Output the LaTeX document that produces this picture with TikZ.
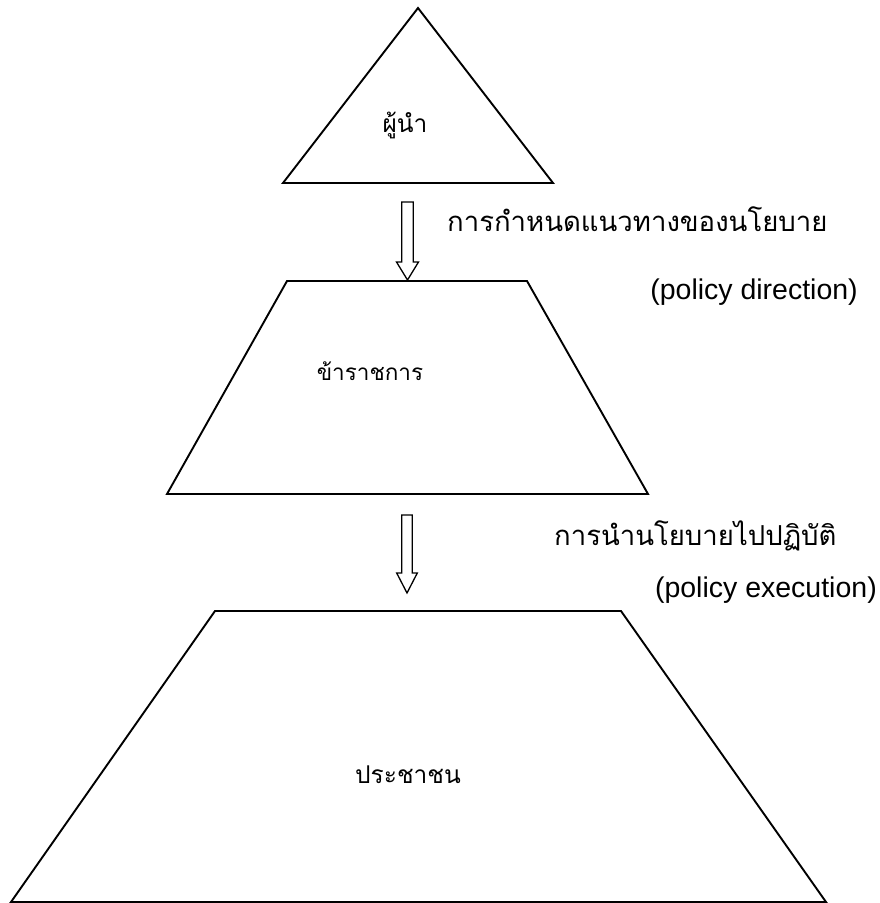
\documentclass[tikz,border=0pt]{standalone}
\usepackage{fontspec}
\setmainfont{Liberation Sans}
\newfontfamily\thaifont[Script=Thai]{Loma}
\begin{document}
\begin{tikzpicture}[x=1pt,y=-1pt,
  tier/.style={draw=black,line width=1.9pt,line join=miter},
  hollowarrow/.style={draw=black,line width=1.3pt,fill=white,line join=miter},
  thailabel/.style={inner sep=0pt,font=\thaifont\fontsize{27.5}{32}\selectfont},
  tiername/.style={inner sep=0pt,font=\thaifont\fontsize{24.5}{30}\selectfont},
  englabel/.style={inner sep=0pt,font=\fontsize{28.5}{32}\selectfont}]
\useasboundingbox (0,0) rectangle (879,903);

% three tiers of the hierarchy
\coordinate (apex) at (418,8);
\coordinate (tl) at (283,183);
\coordinate (tr) at (553,183);
\draw[tier] (apex) -- (tr) -- (tl) -- cycle;

\coordinate (m1) at (287,281);
\coordinate (m2) at (527,281);
\coordinate (m3) at (648,494);
\coordinate (m4) at (167,494);
\draw[tier] (m1) -- (m2) -- (m3) -- (m4) -- cycle;

\coordinate (b1) at (215,611);
\coordinate (b2) at (621,611);
\coordinate (b3) at (826,902);
\coordinate (b4) at (11,902);
\draw[tier] (b1) -- (b2) -- (b3) -- (b4) -- cycle;

% hollow block arrows between the tiers
\coordinate (a1top) at (407.5,202);
\coordinate (a1tip) at (407.5,280);
\coordinate (a2top) at (407,515);
\coordinate (a2tip) at (407,593);
\draw[hollowarrow] (a1top) ++(-5.8,0) -- ++(0,60) -- ++(-5.2,0) -- (a1tip)
  -- ++(11,-18) -- ++(-5.2,0) -- ++(0,-60) -- cycle;
\draw[hollowarrow] (a2top) ++(-5.3,0) -- ++(0,58) -- ++(-5.0,0) -- (a2tip)
  -- ++(10.3,-20) -- ++(-5.0,0) -- ++(0,-58) -- cycle;

% tier names
\node[tiername,anchor=base] (leader) at (405,132) {ผู้นำ};
\node[tiername,anchor=base,font=\thaifont\fontsize{22.5}{27}\selectfont] (officials) at (370,380) {ข้าราชการ};
\node[tiername,anchor=base] (people) at (408,783) {ประชาชน};

% arrow captions
\node[thailabel,anchor=base west] (dirth) at (447,231) {การกำหนดแนวทางของนโยบาย};
\node[englabel,anchor=base east] (diren) at (858,299) {(policy direction)};
\node[thailabel,anchor=base west] (exeth) at (554,545) {การนำนโยบายไปปฏิบัติ};
\node[englabel,anchor=base east] (exeen) at (877,597) {(policy execution)};
\end{tikzpicture}
\end{document}
